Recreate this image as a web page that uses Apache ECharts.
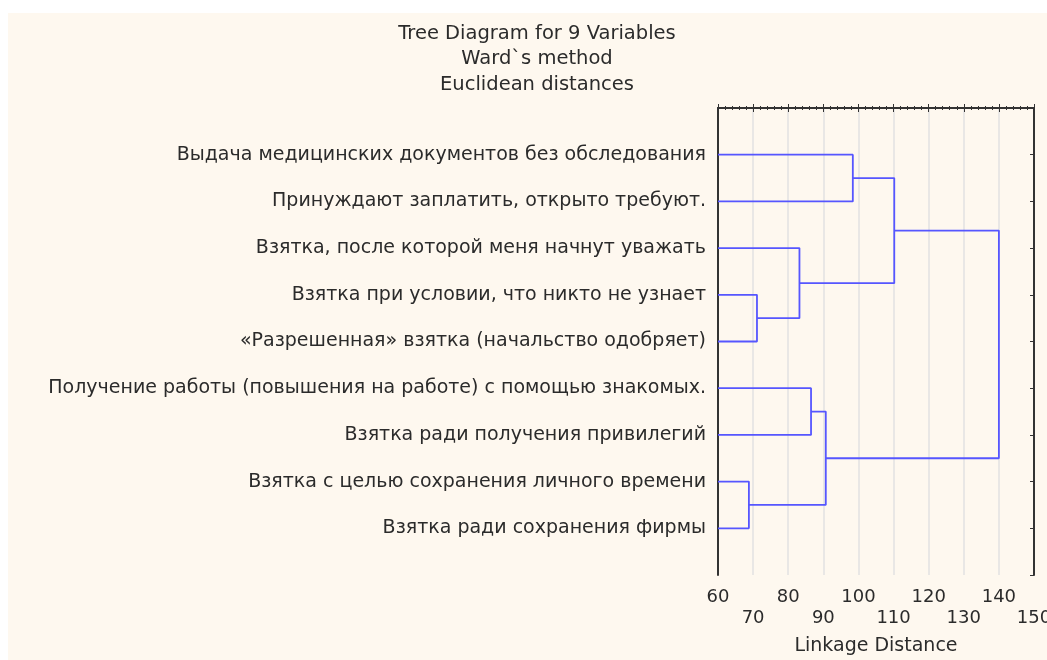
<!DOCTYPE html>
<html lang="en">
<head>
    <meta charset="UTF-8">
    <title>Tree Diagram</title>
    <style>
        body {
            margin: 0;
            background: #fff;
        }
        #main {
            position: absolute;
            left: 8px;
            top: 13px;
            width: 1039px;
            height: 647px;
            background: #fef8ef;
        }
    </style>
</head>
<body>
    <div id="main"></div>

    <script src="https://cdn.jsdelivr.net/npm/echarts@6/dist/echarts.min.js"></script>
    <script>
        // листья дендрограммы (сверху вниз)
        var leaves = [
            'Выдача медицинских документов без обследования',
            'Принуждают заплатить, открыто требуют.',
            'Взятка, после которой меня начнут уважать',
            'Взятка при условии, что никто не узнает',
            '«Разрешенная» взятка (начальство одобряет)',
            'Получение работы (повышения на работе) с помощью знакомых.',
            'Взятка ради получения привилегий',
            'Взятка с целью сохранения личного времени',
            'Взятка ради сохранения фирмы'
        ];
        // объединения: [узел A, узел B, расстояние]; новые узлы нумеруются с 9
        var mergeA = [7, 3, 2, 5, 12, 0, 14, 15];
        var mergeB = [8, 4, 10, 6, 9, 1, 11, 13];
        var mergeDist = [68.8, 71.1, 83.2, 86.5, 90.7, 98.4, 110.2, 140.0];
        var xTicks = [60, 70, 80, 90, 100, 110, 120, 130, 140, 150];

        var myChart = echarts.init(document.getElementById('main'));

        var xMin = xTicks[0], xMax = xTicks[xTicks.length - 1];
        // позиция каждого узла: x = расстояние, y = порядок
        var nodeX = [], nodeY = [];
        for (var i = 0; i < leaves.length; i++) {
            nodeX.push(xMin);
            nodeY.push(i + 1);
        }
        var series = [];
        for (var k = 0; k < mergeDist.length; k++) {
            var a = mergeA[k], b = mergeB[k], h = mergeDist[k];
            series.push({
                type: 'line',
                symbol: 'none',
                silent: true,
                lineStyle: { color: '#5656ff', width: 1.8 },
                data: [[nodeX[a], nodeY[a]], [h, nodeY[a]], [h, nodeY[b]], [nodeX[b], nodeY[b]]]
            });
            nodeX.push(h);
            nodeY.push((nodeY[a] + nodeY[b]) / 2);
        }

        var font = 'DejaVu Sans';
        var textColor = '#2b2b2b';

        var option = {
            animation: false,
            title: {
                text: 'Tree Diagram for 9 Variables\nWard`s method\nEuclidean distances',
                left: 524,
                top: 3,
                textAlign: 'center',
                textStyle: {
                    fontFamily: font,
                    fontSize: 19.5,
                    fontWeight: 'normal',
                    color: textColor,
                    lineHeight: 25.5
                }
            },
            grid: {
                left: 710,
                top: 95,
                right: 13,
                bottom: 85,
                outerBoundsMode: 'none'
            },
            xAxis: [{
                type: 'value',
                position: 'bottom',
                min: xMin,
                max: xMax,
                interval: 10,
                name: 'Linkage Distance',
                nameLocation: 'middle',
                nameGap: 62,
                nameTextStyle: { fontFamily: font, fontSize: 19, color: textColor },
                axisLine: { show: true, lineStyle: { color: '#333', width: 2 } },
                axisTick: { show: true, inside: true, length: 4, lineStyle: { color: '#333' } },
                minorTick: { show: true, splitNumber: 5, length: 2, lineStyle: { color: '#333' } },
                splitLine: { show: true, lineStyle: { color: '#e2e2e2', width: 1.5 } },
                axisLabel: {
                    fontFamily: font,
                    fontSize: 18,
                    color: textColor,
                    margin: 12,
                    lineHeight: 21,
                    formatter: function (v) {
                        return ((v - xMin) / 10) % 2 === 0 ? String(v) : '\n' + v;
                    }
                }
            }, {
                type: 'value',
                position: 'top',
                min: xMin,
                max: xMax,
                interval: 10,
                axisLine: { show: true, lineStyle: { color: '#333', width: 2 } },
                axisTick: { show: true, inside: true, length: 4, lineStyle: { color: '#333' } },
                minorTick: { show: true, splitNumber: 5, length: 2, lineStyle: { color: '#333' } },
                splitLine: { show: false },
                axisLabel: { show: false }
            }],
            yAxis: [{
                type: 'value',
                position: 'left',
                inverse: true,
                min: 0,
                max: leaves.length + 1,
                interval: 1,
                axisLine: { show: true, lineStyle: { color: '#333', width: 2 } },
                axisTick: { show: false },
                splitLine: { show: false },
                axisLabel: {
                    fontFamily: font,
                    fontSize: 19,
                    color: textColor,
                    margin: 12,
                    formatter: function (v) {
                        return leaves[v - 1] || '';
                    }
                }
            }, {
                type: 'value',
                position: 'right',
                inverse: true,
                min: 0,
                max: leaves.length + 1,
                interval: 1,
                axisLine: { show: true, lineStyle: { color: '#333', width: 2 } },
                axisTick: { show: true, inside: true, length: 4, lineStyle: { color: '#333' } },
                splitLine: { show: false },
                axisLabel: { show: false }
            }],
            series: series
        };
        myChart.setOption(option);
    </script>
</body>
</html>
